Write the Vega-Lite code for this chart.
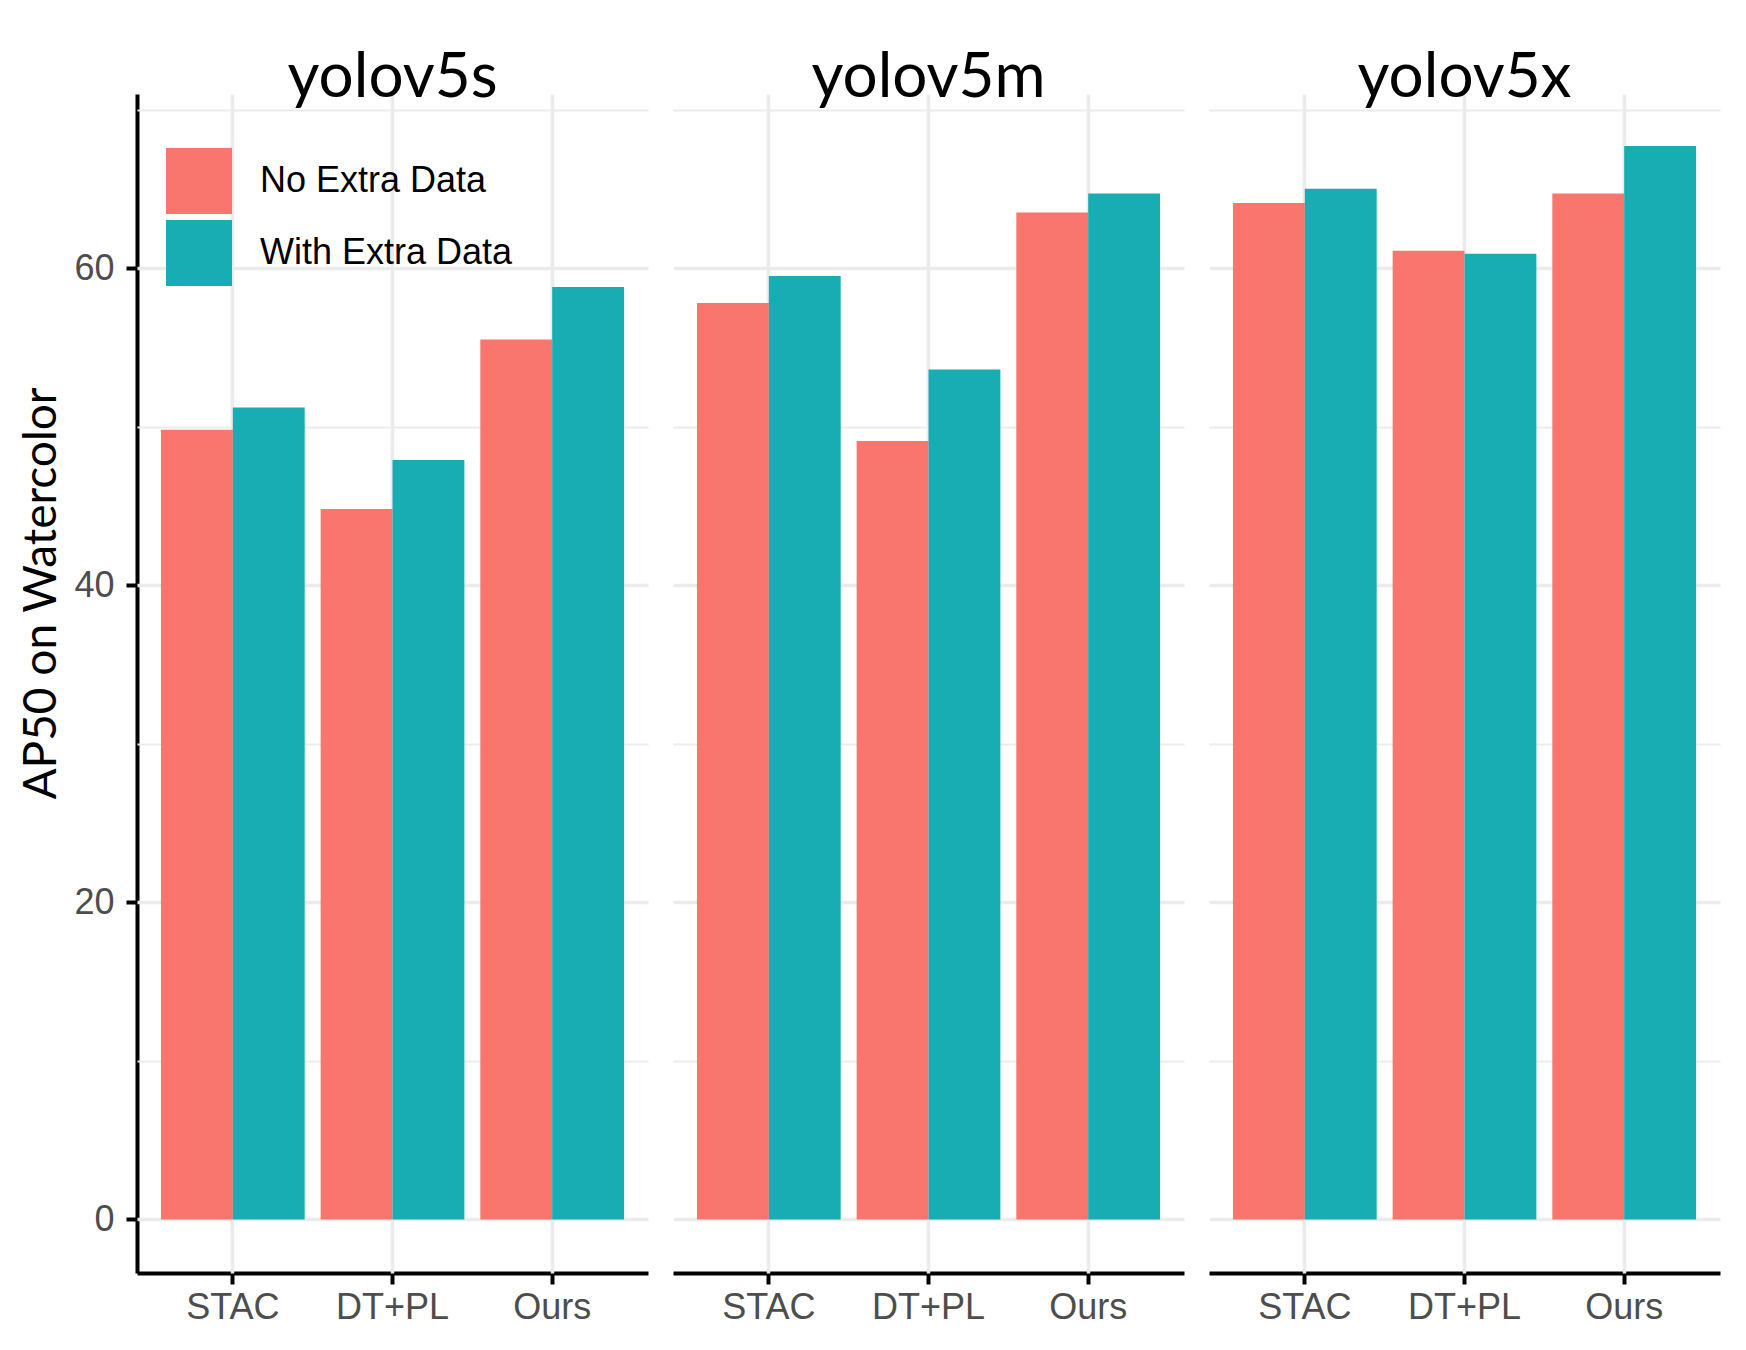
{
  "$schema": "https://vega.github.io/schema/vega-lite/v6.json",
  "padding": {"left": 18, "top": 47, "right": 20, "bottom": 20},
  "spacing": 25,
  "background": "white",
  "data": {
    "values": [
      {"model": "yolov5s", "method": "STAC", "extra": "No Extra Data", "ap50": 49.8},
      {"model": "yolov5s", "method": "STAC", "extra": "With Extra Data", "ap50": 51.2},
      {"model": "yolov5s", "method": "DT+PL", "extra": "No Extra Data", "ap50": 44.8},
      {"model": "yolov5s", "method": "DT+PL", "extra": "With Extra Data", "ap50": 47.9},
      {"model": "yolov5s", "method": "Ours", "extra": "No Extra Data", "ap50": 55.5},
      {"model": "yolov5s", "method": "Ours", "extra": "With Extra Data", "ap50": 58.8},
      {"model": "yolov5m", "method": "STAC", "extra": "No Extra Data", "ap50": 57.8},
      {"model": "yolov5m", "method": "STAC", "extra": "With Extra Data", "ap50": 59.5},
      {"model": "yolov5m", "method": "DT+PL", "extra": "No Extra Data", "ap50": 49.1},
      {"model": "yolov5m", "method": "DT+PL", "extra": "With Extra Data", "ap50": 53.6},
      {"model": "yolov5m", "method": "Ours", "extra": "No Extra Data", "ap50": 63.5},
      {"model": "yolov5m", "method": "Ours", "extra": "With Extra Data", "ap50": 64.7},
      {"model": "yolov5x", "method": "STAC", "extra": "No Extra Data", "ap50": 64.1},
      {"model": "yolov5x", "method": "STAC", "extra": "With Extra Data", "ap50": 65.0},
      {"model": "yolov5x", "method": "DT+PL", "extra": "No Extra Data", "ap50": 61.1},
      {"model": "yolov5x", "method": "DT+PL", "extra": "With Extra Data", "ap50": 60.9},
      {"model": "yolov5x", "method": "Ours", "extra": "No Extra Data", "ap50": 64.7},
      {"model": "yolov5x", "method": "Ours", "extra": "With Extra Data", "ap50": 67.7}
    ]
  },
  "facet": {
    "column": {
      "field": "model",
      "type": "nominal",
      "sort": ["yolov5s", "yolov5m", "yolov5x"],
      "header": {"title": null, "labels": false}
    }
  },
  "spec": {
    "width": 511,
    "height": 1179,
    "encoding": {
      "x": {
        "field": "method",
        "type": "nominal",
        "sort": ["STAC", "DT+PL", "Ours"],
        "scale": {"paddingInner": 0.1, "paddingOuter": 0.15},
        "axis": {"title": null, "labelAngle": 0, "grid": true, "bandPosition": 0.5, "gridWidth": 3.5, "labelPadding": 6}
      },
      "y": {
        "field": "ap50",
        "type": "quantitative",
        "scale": {"domain": [-3.38, 70.98], "nice": false, "zero": false},
        "axis": {
          "title": "AP50 on Watercolor",
          "titleFont": "Lato",
          "titleFontSize": 46,
          "titleFontWeight": "normal",
          "titleColor": "black",
          "titlePadding": 8,
          "titleY": 499,
          "values": [0, 10, 20, 30, 40, 50, 60, 70],
          "labelExpr": "datum.value % 20 === 0 ? datum.label : ''",
          "labelPadding": 12,
          "tickOpacity": {"condition": {"test": "datum.value % 20 === 0", "value": 1}, "value": 0},
          "gridWidth": {"condition": {"test": "datum.value % 20 === 0", "value": 3.5}, "value": 1.8}
        }
      }
    },
    "layer": [
      {
        "mark": {"type": "bar"},
        "encoding": {
          "xOffset": {
            "field": "extra",
            "type": "nominal",
            "sort": ["No Extra Data", "With Extra Data"],
            "scale": {"paddingInner": 0, "paddingOuter": 0}
          },
          "y2": {"datum": 0},
          "color": {
            "field": "extra",
            "type": "nominal",
            "sort": ["No Extra Data", "With Extra Data"],
            "scale": {"range": ["#F8766D", "#18ACB3"]},
            "legend": {
              "title": null,
              "orient": "none",
              "legendX": 29,
              "legendY": 54,
              "symbolType": "square",
              "symbolSize": 4356,
              "symbolStrokeWidth": 0,
              "symbolOpacity": 1,
              "labelFont": "Liberation Sans",
              "labelFontSize": 36,
              "labelColor": "black",
              "labelOffset": 28,
              "labelLimit": 0,
              "rowPadding": 6
            }
          }
        }
      },
      {
        "transform": [{"filter": "datum.method === 'DT+PL' && datum.extra === 'No Extra Data'"}],
        "mark": {"type": "text", "font": "Lato", "fontSize": 62, "color": "black", "baseline": "alphabetic", "align": "center", "dy": 3},
        "encoding": {
          "y": {"datum": 70.98},
          "text": {"field": "model"}
        }
      }
    ]
  },
  "config": {
    "view": {"stroke": null},
    "axis": {
      "domainColor": "black",
      "domainWidth": 4,
      "tickColor": "black",
      "tickWidth": 4,
      "tickSize": 11,
      "labelFont": "Liberation Sans",
      "labelFontSize": 36,
      "labelColor": "#4d4d4d",
      "gridColor": "#ebebeb"
    }
  }
}
